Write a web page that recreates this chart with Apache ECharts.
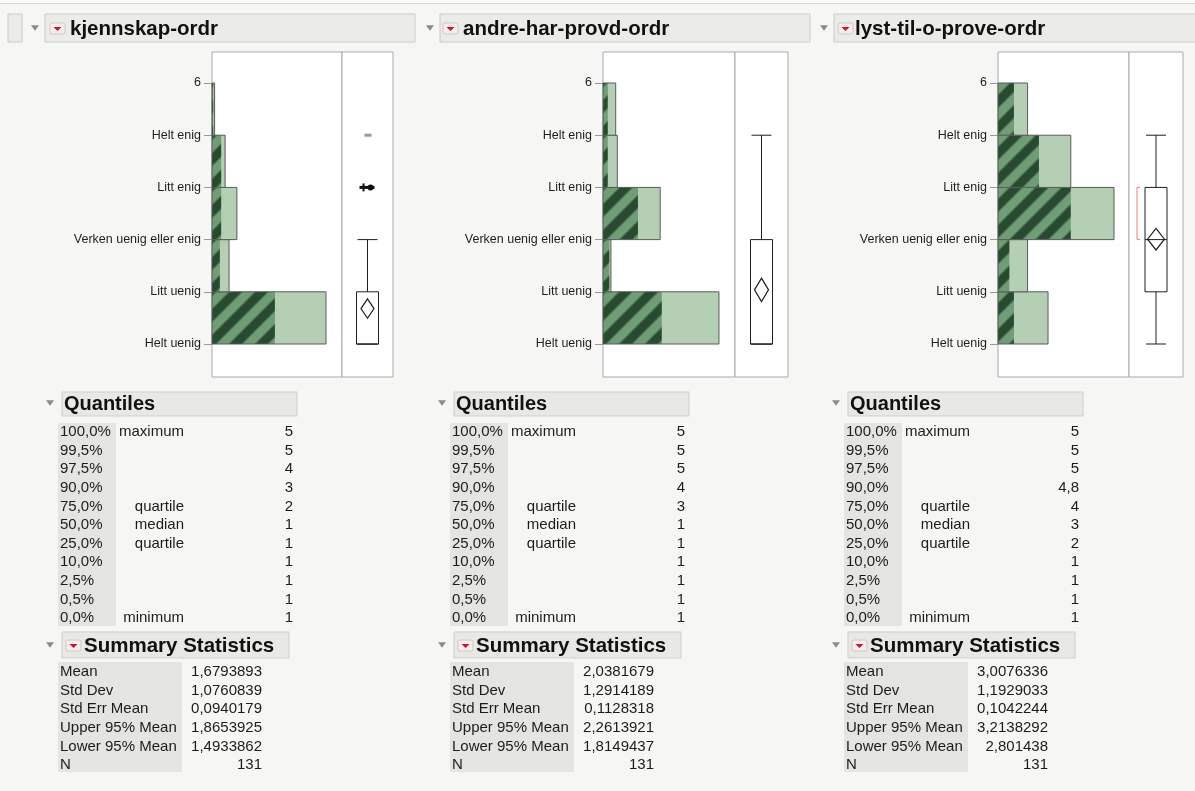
<!DOCTYPE html>
<html><head><meta charset="utf-8">
<script src="https://cdn.jsdelivr.net/npm/echarts@6/dist/echarts.min.js"></script>
<style>html,body{margin:0;padding:0;background:#f6f6f4;}#c{width:1195px;height:791px;}</style>
</head><body><div id="c"></div>
<script>
// ---------- data ----------
const titles = ['kjennskap-ordr', 'andre-har-provd-ordr', 'lyst-til-o-prove-ordr'];
const levelValues = [1, 2, 3, 4, 5, 6];
const levelLabels = ['Helt uenig', 'Litt uenig', 'Verken uenig eller enig', 'Litt enig', 'Helt enig', '6'];
const binStarts = [1, 2, 3, 4, 5];
const counts1 = [87, 13, 19, 10, 2];
const counts2 = [73, 5, 36, 9, 8];
const counts3 = [22, 13, 51, 32, 13];
const selected1 = [48, 6, 7, 7, 1];
const selected2 = [37, 4, 22, 3, 3];
const selected3 = [7, 5, 32, 18, 7];
// [lower whisker, q1, median, q3, upper whisker]
const box1 = [1, 1, 1, 2, 3];
const box2 = [1, 1, 1, 3, 5];
const box3 = [1, 2, 3, 4, 5];
const outliers1 = [4, 5];
const outliers2 = [];
const outliers3 = [];
const means = [1.6793893, 2.0381679, 3.0076336];
const lower95 = [1.4933862, 1.8149437, 2.801438];
const upper95 = [1.8653925, 2.2613921, 3.2138292];
const shortestHalf3 = [3, 4];
const quantilePcts = ['100,0%', '99,5%', '97,5%', '90,0%', '75,0%', '50,0%', '25,0%', '10,0%', '2,5%', '0,5%', '0,0%'];
const quantileNames = ['maximum', '', '', '', 'quartile', 'median', 'quartile', '', '', '', 'minimum'];
const quantiles1 = ['5', '5', '4', '3', '2', '1', '1', '1', '1', '1', '1'];
const quantiles2 = ['5', '5', '5', '4', '3', '1', '1', '1', '1', '1', '1'];
const quantiles3 = ['5', '5', '5', '4,8', '4', '3', '2', '1', '1', '1', '1'];
const summaryNames = ['Mean', 'Std Dev', 'Std Err Mean', 'Upper 95% Mean', 'Lower 95% Mean', 'N'];
const summary1 = ['1,6793893', '1,0760839', '0,0940179', '1,8653925', '1,4933862', '131'];
const summary2 = ['2,0381679', '1,2914189', '0,1128318', '2,2613921', '1,8149437', '131'];
const summary3 = ['3,0076336', '1,1929033', '0,1042244', '3,2138292', '2,801438', '131'];

const countsAll = [counts1, counts2, counts3];
const selectedAll = [selected1, selected2, selected3];
const boxAll = [box1, box2, box3];
const outliersAll = [outliers1, outliers2, outliers3];
const quantilesAll = [quantiles1, quantiles2, quantiles3];
const summaryAll = [summary1, summary2, summary3];
const shortestHalfAll = [null, null, shortestHalf3];

// ---------- layout ----------
const panels = [
  {x0: 212, xd: 342, x1: 393, xMax: 99.2, dHalf: 6.5, headX: 35, iconX: 50, titleX: 70, barEnd: 415, tableX: 60},
  {x0: 603, xd: 735, x1: 788, xMax: 83.1, dHalf: 7, headX: 430, iconX: 443, titleX: 463, barEnd: 810, tableX: 452},
  {x0: 998, xd: 1129, x1: 1183, xMax: 57.6, dHalf: 8.5, headX: 824, iconX: 838, titleX: 855, barEnd: 1200, tableX: 846}
];
const plotTop = 52, plotBottom = 377, yMin = 0.368, yMax = 6.594;
const FONT = "'Liberation Sans', Arial, sans-serif";

function stripeTile() {
  const N = 26, c = document.createElement('canvas');
  c.width = N; c.height = N;
  const ctx = c.getContext('2d');
  const img = ctx.createImageData(N, N);
  const dark = [40, 74, 48], mid = [112, 156, 118];
  for (let y = 0; y < N; y++) for (let x = 0; x < N; x++) {
    // smooth edges: distance within period
    const t = ((x + y) % N) / N;
    let w;
    const e = 0.06;
    if (t < e) w = 0.5 + t / (2 * e);
    else if (t < 0.5 - e) w = 1;
    else if (t < 0.5 + e) w = 1 - (t - (0.5 - e)) / (2 * e);
    else if (t < 1 - e) w = 0;
    else w = (t - (1 - e)) / (2 * e);
    const k = (y * N + x) * 4;
    for (let ch = 0; ch < 3; ch++) img.data[k + ch] = Math.round(dark[ch] * w + mid[ch] * (1 - w));
    img.data[k + 3] = 255;
  }
  ctx.putImageData(img, 0, 0);
  return c;
}
const tile = stripeTile();

const grids = [], xAxes = [], yAxes = [], series = [], graphic = [];

panels.forEach((p, i) => {
  const h = plotBottom - plotTop;
  grids.push({left: p.x0, top: plotTop, width: p.xd - p.x0, height: h, show: true, backgroundColor: '#fff', borderColor: '#a9a9a9', borderWidth: 1});
  grids.push({left: p.xd, top: plotTop, width: p.x1 - p.xd, height: h, show: true, backgroundColor: '#fff', borderColor: '#a9a9a9', borderWidth: 1});
  xAxes.push({type: 'value', gridIndex: 2 * i, min: 0, max: p.xMax, show: false});
  xAxes.push({type: 'value', gridIndex: 2 * i + 1, min: -1, max: 1, show: false});
  yAxes.push({
    type: 'value', gridIndex: 2 * i, min: yMin, max: yMax,
    axisLine: {show: false}, splitLine: {show: false},
    axisTick: {show: true, length: 8, customValues: levelValues, lineStyle: {color: '#999'}},
    axisLabel: {show: true, customValues: levelValues, margin: 11, color: '#1e1e1e', fontSize: 12.5, fontFamily: FONT,
      formatter: v => levelLabels[levelValues.indexOf(Math.round(v))]}
  });
  yAxes.push({type: 'value', gridIndex: 2 * i + 1, min: yMin, max: yMax, show: false});

  const counts = countsAll[i], sel = selectedAll[i];
  series.push({
    type: 'custom', xAxisIndex: 2 * i, yAxisIndex: 2 * i, silent: true,
    data: binStarts.map((b, k) => [b, counts[k], sel[k]]),
    renderItem: (params, api) => {
      const lo = api.value(0), c = api.value(1), s = api.value(2);
      const a = api.coord([0, lo]), b = api.coord([c, lo + 1]), sb = api.coord([s, lo + 1]);
      const y = b[1], hh = a[1] - b[1];
      return {type: 'group', children: [
        {type: 'rect', shape: {x: a[0], y: y, width: b[0] - a[0], height: hh}, style: {fill: '#b5cfb5'}},
        {type: 'rect', shape: {x: a[0], y: y, width: sb[0] - a[0], height: hh}, style: {fill: {image: tile, repeat: 'repeat'}}},
        {type: 'rect', shape: {x: a[0], y: y, width: b[0] - a[0], height: hh}, style: {fill: 'none', stroke: '#5a5a5a', lineWidth: 1}}
      ]};
    }
  });

  const bx = boxAll[i], outs = outliersAll[i], sh = shortestHalfAll[i];
  series.push({
    type: 'custom', xAxisIndex: 2 * i + 1, yAxisIndex: 2 * i + 1, silent: true,
    data: [[0]],
    renderItem: (params, api) => {
      const cx = api.coord([0, 1])[0];
      const Y = v => api.coord([0, v])[1];
      const bw = 11, cw = 10, ln = {stroke: '#1e1e1e', lineWidth: 1, fill: 'none'};
      const ch = [];
      ch.push({type: 'line', shape: {x1: cx, y1: Y(bx[3]), x2: cx, y2: Y(bx[4])}, style: ln});
      ch.push({type: 'line', shape: {x1: cx - cw, y1: Y(bx[4]), x2: cx + cw, y2: Y(bx[4])}, style: ln});
      ch.push({type: 'line', shape: {x1: cx, y1: Y(bx[1]), x2: cx, y2: Y(bx[0])}, style: ln});
      ch.push({type: 'line', shape: {x1: cx - cw, y1: Y(bx[0]), x2: cx + cw, y2: Y(bx[0])}, style: ln});
      ch.push({type: 'rect', shape: {x: cx - bw, y: Y(bx[3]), width: 2 * bw, height: Y(bx[1]) - Y(bx[3])}, style: {stroke: '#1e1e1e', lineWidth: 1, fill: '#fff'}});
      ch.push({type: 'line', shape: {x1: cx - bw, y1: Y(bx[2]), x2: cx + bw, y2: Y(bx[2])}, style: ln});
      const d = panels[i].dHalf;
      ch.push({type: 'polygon', shape: {points: [[cx, Y(upper95[i])], [cx + d, Y(means[i])], [cx, Y(lower95[i])], [cx - d, Y(means[i])]]}, style: {stroke: '#1e1e1e', lineWidth: 1.2, fill: 'none'}});
      outs.forEach((v, k) => {
        const yy = Y(v);
        if (k === 0) {
          ch.push({type: 'line', shape: {x1: cx - 8, y1: yy, x2: cx + 7, y2: yy}, style: {stroke: '#111', lineWidth: 3}});
          ch.push({type: 'line', shape: {x1: cx - 4, y1: yy - 4, x2: cx - 4, y2: yy + 4}, style: {stroke: '#111', lineWidth: 2}});
          ch.push({type: 'circle', shape: {cx: cx + 3, cy: yy, r: 3}, style: {fill: '#111'}});
        } else {
          ch.push({type: 'line', shape: {x1: cx - 3, y1: yy, x2: cx + 4, y2: yy}, style: {stroke: '#999', lineWidth: 3}});
        }
      });
      if (sh) {
        const bxl = cx - bw - 8, y1 = Y(sh[0]), y2 = Y(sh[1]);
        ch.push({type: 'polyline', shape: {points: [[bxl + 3, y2], [bxl, y2], [bxl, y1], [bxl + 3, y1]]}, style: {stroke: '#e08585', lineWidth: 1, fill: 'none'}});
      }
      return {type: 'group', children: ch};
    }
  });

  // ---------- header ----------
  const tri = (x, y, s, col) => ({type: 'polygon', shape: {points: [[x - s, y - s * 0.7], [x + s, y - s * 0.7], [x, y + s * 0.7]]}, style: {fill: col}});
  const icon = (x, y) => [
    {type: 'rect', shape: {x: x, y: y, width: 15, height: 11, r: 2}, style: {fill: '#f4eeee', stroke: '#d8c4c4', lineWidth: 1}},
    {type: 'polygon', shape: {points: [[x + 3.5, y + 4], [x + 11.5, y + 4], [x + 7.5, y + 8]]}, style: {fill: '#c3172a'}}
  ];
  graphic.push({type: 'rect', shape: {x: p.headX + 10, y: 14, width: p.barEnd - p.headX - 10, height: 28}, style: {fill: '#ebebe8', stroke: '#cacac7', lineWidth: 1}});
  graphic.push(tri(p.headX, 28, 4, '#8c8c8c'));
  graphic.push(...icon(p.iconX, 23));
  graphic.push({type: 'text', x: p.titleX, y: 29, style: {text: titles[i], font: `bold 20.5px ${FONT}`, fill: '#111', textVerticalAlign: 'middle'}});

  // ---------- quantiles ----------
  const tx = p.tableX;
  graphic.push(tri(tx - 10, 403, 4, '#8c8c8c'));
  graphic.push({type: 'rect', shape: {x: tx + 2, y: 392, width: 235, height: 24}, style: {fill: '#e8e8e5', stroke: '#cfcfcc', lineWidth: 1}});
  graphic.push({type: 'text', x: tx + 4, y: 404, style: {text: 'Quantiles', font: `bold 20px ${FONT}`, fill: '#111', textVerticalAlign: 'middle'}});
  graphic.push({type: 'rect', shape: {x: tx - 2, y: 423, width: 58, height: 203}, style: {fill: '#e4e4e1'}});
  quantilePcts.forEach((q, r) => {
    const yy = 432 + 18.6 * r;
    graphic.push({type: 'text', x: tx, y: yy, style: {text: q, font: `15px ${FONT}`, fill: '#1c1c1c', textVerticalAlign: 'middle'}});
    if (quantileNames[r]) graphic.push({type: 'text', x: tx + 124, y: yy, style: {text: quantileNames[r], font: `15px ${FONT}`, fill: '#1c1c1c', textAlign: 'right', textVerticalAlign: 'middle'}});
    graphic.push({type: 'text', x: tx + 233, y: yy, style: {text: quantilesAll[i][r], font: `15px ${FONT}`, fill: '#1c1c1c', textAlign: 'right', textVerticalAlign: 'middle'}});
  });

  // ---------- summary statistics ----------
  graphic.push(tri(tx - 10, 645, 4, '#8c8c8c'));
  graphic.push({type: 'rect', shape: {x: tx + 2, y: 632, width: 227, height: 26}, style: {fill: '#e8e8e5', stroke: '#cfcfcc', lineWidth: 1}});
  graphic.push(...icon(tx + 6, 640));
  graphic.push({type: 'text', x: tx + 24, y: 646, style: {text: 'Summary Statistics', font: `bold 20.5px ${FONT}`, fill: '#111', textVerticalAlign: 'middle'}});
  graphic.push({type: 'rect', shape: {x: tx - 2, y: 662, width: 124, height: 110}, style: {fill: '#e4e4e1'}});
  summaryNames.forEach((s, r) => {
    const yy = 672 + 18.6 * r;
    graphic.push({type: 'text', x: tx, y: yy, style: {text: s, font: `15px ${FONT}`, fill: '#1c1c1c', textVerticalAlign: 'middle'}});
    graphic.push({type: 'text', x: tx + 202, y: yy, style: {text: summaryAll[i][r], font: `15px ${FONT}`, fill: '#1c1c1c', textAlign: 'right', textVerticalAlign: 'middle'}});
  });
});

// top strip + left partial element
graphic.unshift({type: 'rect', shape: {x: 8, y: 14, width: 14, height: 28}, style: {fill: '#ebebe8', stroke: '#cacac7', lineWidth: 1}});
graphic.unshift({type: 'line', shape: {x1: 0, y1: 3.5, x2: 1195, y2: 3.5}, style: {stroke: '#d6d6d3', lineWidth: 1}});
graphic.unshift({type: 'rect', shape: {x: 0, y: 0, width: 1195, height: 3}, style: {fill: '#fbfbfa'}});

const chart = echarts.init(document.getElementById('c'), null, {renderer: 'canvas'});
chart.setOption({
  backgroundColor: '#f6f6f4',
  animation: false,
  grid: grids, xAxis: xAxes, yAxis: yAxes, series: series,
  graphic: graphic
});
</script></body></html>
